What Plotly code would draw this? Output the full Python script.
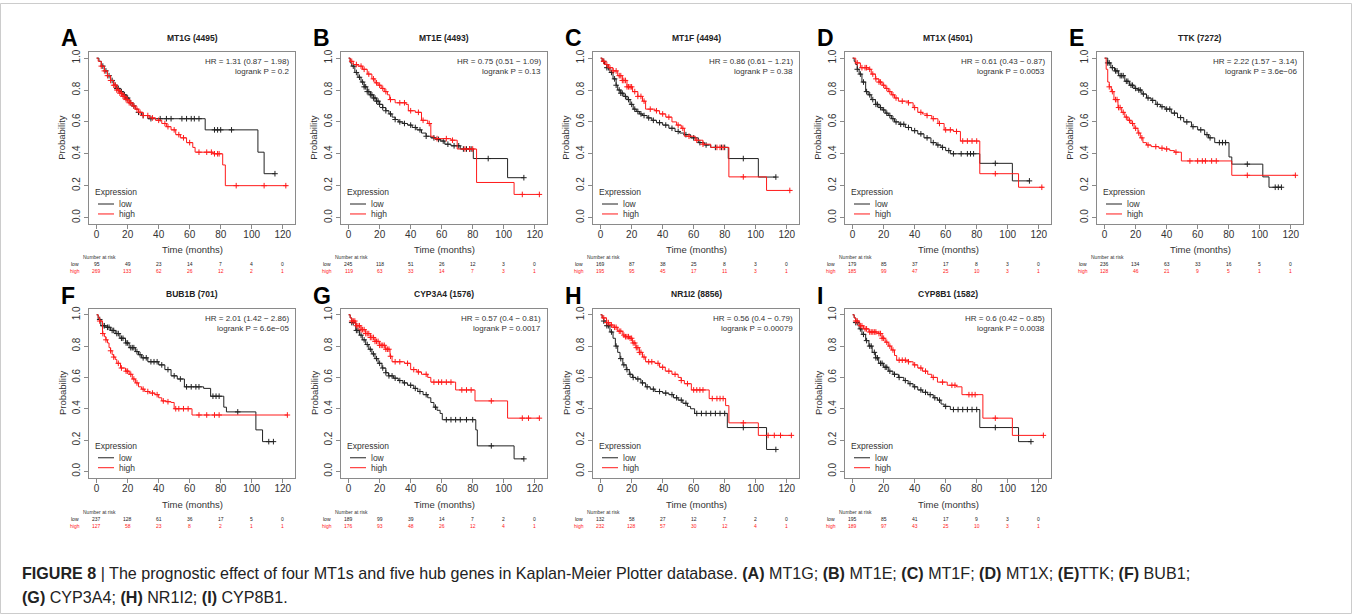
import plotly.graph_objects as go

W, H = 1352, 614

# ---------------- panel metadata ----------------
letters = ["A", "B", "C", "D", "E", "F", "G", "H", "I"]
titles = ["MT1G (4495)", "MT1E (4493)", "MT1F (4494)", "MT1X (4501)", "TTK (7272)",
          "BUB1B (701)", "CYP3A4 (1576)", "NR1I2 (8856)", "CYP8B1 (1582)"]
hr_labels = ["HR = 1.31 (0.87 \u2212 1.98)", "HR = 0.75 (0.51 \u2212 1.09)", "HR = 0.86 (0.61 \u2212 1.21)",
             "HR = 0.61 (0.43 \u2212 0.87)", "HR = 2.22 (1.57 \u2212 3.14)", "HR = 2.01 (1.42 \u2212 2.86)",
             "HR = 0.57 (0.4 \u2212 0.81)", "HR = 0.56 (0.4 \u2212 0.79)", "HR = 0.6 (0.42 \u2212 0.85)"]
p_labels = ["logrank P = 0.2", "logrank P = 0.13", "logrank P = 0.38", "logrank P = 0.0053",
            "logrank P = 3.6e\u221206", "logrank P = 6.6e\u221205", "logrank P = 0.0017",
            "logrank P = 0.00079", "logrank P = 0.0038"]

x_ticks = [0, 20, 40, 60, 80, 100, 120]
y_ticks = [0.0, 0.2, 0.4, 0.6, 0.8, 1.0]
y_tick_text = ["0.0", "0.2", "0.4", "0.6", "0.8", "1.0"]
risk_times = [0, 20, 40, 60, 80, 100, 120]

# ---------------- number at risk ----------------
A_risk_low = [95, 49, 23, 14, 7, 4, 0]
A_risk_high = [269, 133, 62, 26, 12, 2, 1]
B_risk_low = [245, 118, 51, 26, 12, 3, 0]
B_risk_high = [119, 63, 33, 14, 7, 3, 1]
C_risk_low = [169, 87, 38, 25, 8, 3, 0]
C_risk_high = [195, 95, 45, 17, 11, 3, 1]
D_risk_low = [179, 85, 37, 17, 8, 3, 0]
D_risk_high = [185, 99, 47, 25, 10, 3, 1]
E_risk_low = [236, 134, 63, 33, 16, 5, 0]
E_risk_high = [128, 46, 21, 9, 5, 1, 1]
F_risk_low = [237, 128, 61, 36, 17, 5, 0]
F_risk_high = [127, 58, 23, 8, 2, 1, 1]
G_risk_low = [189, 99, 39, 14, 7, 2, 0]
G_risk_high = [176, 93, 48, 26, 12, 4, 1]
H_risk_low = [132, 58, 27, 12, 7, 2, 0]
H_risk_high = [232, 128, 57, 30, 12, 4, 1]
I_risk_low = [195, 85, 41, 17, 9, 3, 0]
I_risk_high = [189, 97, 43, 25, 10, 3, 1]

# ---------------- survival curves (step times, survival, censor times) ----------------
A_low_t = [0, 1.5, 3, 5, 7, 9, 11, 13, 15, 17, 19, 21, 23, 25, 27, 29, 33, 70, 104, 108, 115]
A_low_s = [1, 0.98, 0.95, 0.92, 0.89, 0.86, 0.83, 0.81, 0.79, 0.77, 0.75, 0.72, 0.70, 0.68, 0.66, 0.64, 0.62, 0.55, 0.41, 0.275, 0.275]
A_low_c = [4, 6, 8, 10, 12, 13, 14, 16, 18, 19, 20, 22, 24, 27, 30, 35, 41, 45, 48, 55, 58, 61, 63, 66, 76, 78, 80, 87, 115]
A_high_t = [0, 1, 3, 5, 7, 9, 11, 13, 15, 17, 19, 21, 23, 25, 27, 30, 34, 38, 42, 45, 48, 51, 54, 58, 62, 63.5, 75, 81.3, 83, 123]
A_high_s = [1, 0.98, 0.95, 0.92, 0.89, 0.86, 0.83, 0.80, 0.78, 0.76, 0.74, 0.72, 0.70, 0.68, 0.66, 0.64, 0.625, 0.61, 0.59, 0.57, 0.55, 0.52, 0.50, 0.47, 0.44, 0.41, 0.40, 0.33, 0.20, 0.20]
A_high_c = [3, 5, 7, 9, 11, 12, 13, 14, 15, 16, 17, 18, 19, 20, 21, 22, 24, 26, 28, 30, 33, 36, 40, 44, 46, 50, 53, 56, 60, 66, 71, 74, 76, 78, 79, 90, 108, 122]

B_low_t = [0, 1, 2, 4, 6, 8, 10, 12, 14, 16, 18, 20, 22, 24, 26, 28, 30, 32, 35, 38, 41, 44, 47, 50, 53, 56, 59, 62, 66, 72, 80.4, 102.5, 113]
B_low_s = [1, 0.97, 0.95, 0.91, 0.88, 0.85, 0.82, 0.79, 0.77, 0.75, 0.73, 0.71, 0.69, 0.67, 0.65, 0.63, 0.615, 0.60, 0.59, 0.58, 0.565, 0.55, 0.53, 0.51, 0.50, 0.49, 0.48, 0.46, 0.45, 0.43, 0.37, 0.25, 0.25]
B_low_c = [3, 5, 7, 9, 10, 11, 12, 13, 14, 15, 16, 17, 18, 19, 20, 22, 24, 27, 30, 33, 36, 40, 43, 46, 50, 55, 58, 61, 64, 68, 71, 74, 76, 78, 79, 90, 113]
B_high_t = [0, 1, 3, 6, 9, 12, 15, 17, 19, 21, 23, 25, 26.5, 30, 37, 38.5, 43, 47, 51, 53, 55, 66, 70, 82.5, 106.7, 123]
B_high_s = [1, 0.98, 0.96, 0.95, 0.93, 0.90, 0.87, 0.845, 0.83, 0.81, 0.79, 0.77, 0.74, 0.72, 0.71, 0.67, 0.66, 0.61, 0.59, 0.51, 0.495, 0.485, 0.43, 0.22, 0.145, 0.145]
B_high_c = [2, 5, 8, 10, 13, 16, 18, 20, 22, 24, 27, 33, 36, 40, 45, 48, 52, 57, 63, 67, 75, 78, 80, 112, 123]

C_low_t = [0, 1, 2.5, 4, 6, 8, 10, 11, 13, 15, 17, 19, 21, 23, 25, 27, 30, 33, 36, 40, 44, 48, 51, 54, 58, 63, 67, 71, 82.3, 101.7, 113]
C_low_s = [1, 0.98, 0.96, 0.94, 0.91, 0.87, 0.83, 0.80, 0.78, 0.76, 0.74, 0.71, 0.68, 0.665, 0.65, 0.64, 0.625, 0.61, 0.595, 0.58, 0.56, 0.54, 0.53, 0.52, 0.50, 0.47, 0.455, 0.44, 0.37, 0.254, 0.254]
C_low_c = [2, 4, 5, 7, 9, 10, 12, 13, 14, 16, 18, 20, 22, 24, 26, 28, 31, 34, 38, 42, 46, 50, 55, 60, 64, 68, 74, 78, 80, 92, 113]
C_high_t = [0, 1, 3, 5, 8, 11, 14, 17, 20.6, 24, 27, 29, 35, 38, 42, 46, 49, 52, 54, 61, 66, 71, 82.7, 107, 123]
C_high_s = [1, 0.98, 0.96, 0.94, 0.92, 0.89, 0.86, 0.82, 0.79, 0.76, 0.73, 0.68, 0.67, 0.65, 0.63, 0.60, 0.58, 0.56, 0.51, 0.485, 0.46, 0.44, 0.255, 0.17, 0.17]
C_high_c = [2, 4, 6, 8, 10, 12, 13, 14, 15, 16, 17, 18, 19, 20, 22, 24, 26, 28, 32, 36, 40, 44, 50, 53, 57, 62, 66, 75, 77, 79, 92, 122]

D_low_t = [0, 1, 2, 3, 4.2, 6, 8.4, 10, 12, 14.7, 17, 19, 21, 23, 25, 27, 30, 34, 38, 42, 46, 50.5, 54, 57, 60, 63, 82, 103, 114]
D_low_s = [1, 0.98, 0.96, 0.93, 0.90, 0.85, 0.79, 0.77, 0.74, 0.71, 0.69, 0.675, 0.655, 0.64, 0.62, 0.60, 0.585, 0.565, 0.545, 0.525, 0.50, 0.47, 0.455, 0.44, 0.42, 0.40, 0.34, 0.23, 0.23]
D_low_c = [3, 5, 7, 9, 11, 13, 15, 16, 18, 20, 22, 24, 26, 28, 31, 33, 36, 40, 44, 48, 52, 55, 58, 62, 65, 70, 74, 76, 78, 92, 114]
D_high_t = [0, 2, 5, 10.5, 12, 14.7, 17, 19, 21, 23, 25, 27, 29.5, 36, 39, 42, 45, 48, 51, 55, 59, 65, 69.5, 82, 107, 123]
D_high_s = [1, 0.97, 0.94, 0.93, 0.90, 0.87, 0.85, 0.83, 0.81, 0.79, 0.77, 0.75, 0.73, 0.72, 0.69, 0.66, 0.65, 0.64, 0.62, 0.59, 0.55, 0.54, 0.48, 0.275, 0.19, 0.19]
D_high_c = [3, 6, 8, 9, 11, 13, 15, 17, 18, 20, 22, 24, 26, 28, 32, 36, 40, 44, 48, 52, 56, 60, 63, 67, 71, 74, 77, 80, 92, 122]

E_low_t = [0, 2, 4, 6.4, 9, 13, 16, 19, 21.5, 24, 27, 30, 33, 36, 39, 43, 47, 51, 56, 60, 64.5, 67, 71, 80.2, 82, 102, 106, 114]
E_low_s = [1, 0.97, 0.94, 0.92, 0.89, 0.855, 0.83, 0.81, 0.80, 0.775, 0.75, 0.735, 0.71, 0.695, 0.68, 0.655, 0.627, 0.60, 0.57, 0.55, 0.52, 0.50, 0.47, 0.38, 0.335, 0.255, 0.19, 0.19]
E_low_c = [2, 3, 5, 7, 8, 10, 11, 12, 14, 15, 17, 18, 20, 22, 23, 25, 28, 31, 34, 37, 40, 42, 45, 49, 53, 57, 62, 66, 68, 74, 76, 78, 92, 110, 112, 114]
E_high_t = [0, 1, 2, 3, 4.3, 6, 8.6, 11, 13, 15, 17, 19, 21.5, 23, 24.7, 27, 30, 35, 38.7, 42, 45, 49.5, 82, 123]
E_high_s = [1, 0.93, 0.85, 0.82, 0.79, 0.74, 0.69, 0.66, 0.63, 0.61, 0.59, 0.56, 0.53, 0.50, 0.47, 0.455, 0.445, 0.435, 0.43, 0.42, 0.41, 0.355, 0.265, 0.265]
E_high_c = [3, 5, 7, 8, 9, 10, 12, 14, 16, 18, 20, 22, 24, 28, 33, 37, 40, 46, 55, 60, 63, 65, 69, 72, 92, 123]

F_low_t = [0, 1, 2.7, 6, 9, 12, 15, 18.6, 21, 25, 27, 29, 33, 40, 44, 48, 52, 56.6, 69, 73.5, 82, 83.7, 102.7, 107, 114]
F_low_s = [1, 0.97, 0.93, 0.92, 0.90, 0.88, 0.85, 0.82, 0.79, 0.765, 0.745, 0.725, 0.70, 0.68, 0.65, 0.61, 0.59, 0.54, 0.53, 0.48, 0.41, 0.38, 0.265, 0.19, 0.19]
F_low_c = [2, 4, 5, 7, 8, 10, 11, 13, 14, 16, 17, 19, 20, 22, 23, 24, 26, 28, 30, 32, 35, 37, 39, 42, 46, 50, 54, 58, 61, 64, 66, 75, 77, 79, 91, 111, 114]
F_high_t = [0, 1, 2, 3.8, 5, 6, 7, 8, 9, 10, 11, 12, 13, 15.4, 18.6, 21, 23, 25, 27, 29, 31, 34, 37.6, 40, 42, 45, 48, 50, 61.5, 123]
F_high_s = [1, 0.98, 0.96, 0.88, 0.86, 0.84, 0.82, 0.79, 0.77, 0.745, 0.73, 0.715, 0.69, 0.66, 0.64, 0.62, 0.59, 0.565, 0.54, 0.525, 0.51, 0.50, 0.49, 0.47, 0.45, 0.445, 0.44, 0.40, 0.36, 0.36]
F_high_c = [2, 4, 6, 9, 11, 14, 16, 19, 20, 22, 24, 26, 30, 33, 36, 39, 43, 46, 51, 53, 56, 59, 66, 71, 76, 79, 123]

G_low_t = [0, 1, 2, 4.6, 7, 8.8, 11, 13, 15, 17, 19, 21.5, 24, 25.7, 29, 32, 35, 38, 42, 44.6, 48, 51, 53, 55, 57, 59, 60.4, 82, 83, 106.7, 113]
G_low_s = [1, 0.98, 0.95, 0.90, 0.87, 0.84, 0.81, 0.78, 0.75, 0.72, 0.69, 0.66, 0.63, 0.61, 0.595, 0.58, 0.565, 0.55, 0.53, 0.51, 0.49, 0.47, 0.44, 0.41, 0.39, 0.37, 0.33, 0.265, 0.163, 0.08, 0.08]
G_low_c = [2, 3, 5, 6, 8, 10, 12, 14, 16, 18, 20, 22, 24, 26, 28, 30, 33, 36, 40, 43, 46, 50, 56, 63, 66, 69, 72, 76, 80, 92, 113]
G_high_t = [0, 1, 2, 4.6, 8, 11, 14, 17, 20, 23.6, 26.7, 28, 36, 40, 44, 47, 51, 53, 69, 81.5, 102.5, 123]
G_high_s = [1, 0.98, 0.96, 0.93, 0.905, 0.88, 0.855, 0.83, 0.805, 0.78, 0.735, 0.70, 0.69, 0.65, 0.635, 0.62, 0.60, 0.57, 0.52, 0.45, 0.34, 0.34]
G_high_c = [2, 3, 4, 5, 6, 7, 8, 9, 10, 11, 12, 13, 14, 15, 16, 17, 18, 19, 20, 21, 22, 23, 24, 25, 26, 27, 30, 33, 38, 42, 45, 50, 55, 58, 60, 63, 66, 73, 76, 79, 92, 112, 116, 123]

H_low_t = [0, 1, 2, 3.8, 6, 8, 9.5, 11, 12.5, 14.3, 16.5, 18.5, 20.5, 22.7, 26, 29, 32, 35, 40, 44, 47, 50, 53, 56, 58, 60.6, 81.7, 107, 113]
H_low_s = [1, 0.98, 0.96, 0.93, 0.89, 0.85, 0.80, 0.76, 0.72, 0.68, 0.65, 0.62, 0.60, 0.59, 0.565, 0.54, 0.525, 0.51, 0.50, 0.49, 0.47, 0.455, 0.435, 0.415, 0.40, 0.37, 0.28, 0.14, 0.14]
H_low_c = [2, 4, 5, 7, 10, 13, 15, 17, 19, 21, 24, 27, 30, 34, 38, 42, 46, 49, 52, 55, 62, 65, 68, 71, 74, 77, 80, 92, 113]
H_high_t = [0, 1, 3.8, 6, 8, 11, 14.3, 16, 18.5, 20.5, 22.7, 25, 27, 29, 35, 38, 41.7, 46, 50, 52, 54, 58.5, 70, 80.6, 82.7, 101.7, 123]
H_high_s = [1, 0.98, 0.95, 0.935, 0.92, 0.895, 0.87, 0.86, 0.85, 0.82, 0.79, 0.76, 0.73, 0.70, 0.69, 0.665, 0.64, 0.62, 0.60, 0.58, 0.56, 0.52, 0.465, 0.42, 0.31, 0.23, 0.23]
H_high_c = [2, 4, 5, 7, 9, 10, 12, 13, 15, 16, 17, 18, 19, 20, 21, 22, 23, 24, 25, 26, 28, 31, 33, 37, 40, 44, 48, 52, 56, 60, 62, 64, 66, 72, 75, 77, 79, 92, 108, 112, 116, 123]

I_low_t = [0, 1, 2, 4.2, 6, 8.4, 10.5, 12.6, 14.7, 16.8, 20, 23, 26, 29.5, 33, 35.8, 39, 42, 45, 48.4, 52, 54.7, 57, 59, 63, 82, 107, 115]
I_low_s = [1, 0.98, 0.95, 0.91, 0.875, 0.835, 0.80, 0.76, 0.725, 0.69, 0.665, 0.64, 0.62, 0.60, 0.58, 0.56, 0.54, 0.52, 0.505, 0.49, 0.47, 0.455, 0.43, 0.415, 0.395, 0.28, 0.19, 0.19]
I_low_c = [2, 3, 5, 7, 9, 11, 12, 14, 15, 16, 18, 19, 21, 22, 24, 27, 30, 34, 37, 40, 44, 47, 50, 53, 56, 60, 65, 68, 71, 74, 77, 80, 92, 115]
I_high_t = [0, 1, 2, 4.2, 7, 10.5, 16.8, 19, 21, 23, 25, 27, 28.4, 36, 39, 42, 45, 48.4, 51, 54.7, 61, 67, 70.5, 84, 103, 123]
I_high_s = [1, 0.98, 0.96, 0.93, 0.91, 0.89, 0.88, 0.85, 0.825, 0.80, 0.775, 0.74, 0.71, 0.70, 0.68, 0.66, 0.64, 0.62, 0.60, 0.57, 0.55, 0.54, 0.49, 0.34, 0.23, 0.23]
I_high_c = [2, 3, 5, 6, 8, 9, 11, 12, 13, 14, 15, 17, 18, 19, 20, 22, 24, 26, 30, 32, 34, 36, 40, 44, 47, 52, 58, 64, 66, 75, 77, 79, 92, 123]

panels = [
    (A_low_t, A_low_s, A_low_c, A_high_t, A_high_s, A_high_c, A_risk_low, A_risk_high),
    (B_low_t, B_low_s, B_low_c, B_high_t, B_high_s, B_high_c, B_risk_low, B_risk_high),
    (C_low_t, C_low_s, C_low_c, C_high_t, C_high_s, C_high_c, C_risk_low, C_risk_high),
    (D_low_t, D_low_s, D_low_c, D_high_t, D_high_s, D_high_c, D_risk_low, D_risk_high),
    (E_low_t, E_low_s, E_low_c, E_high_t, E_high_s, E_high_c, E_risk_low, E_risk_high),
    (F_low_t, F_low_s, F_low_c, F_high_t, F_high_s, F_high_c, F_risk_low, F_risk_high),
    (G_low_t, G_low_s, G_low_c, G_high_t, G_high_s, G_high_c, G_risk_low, G_risk_high),
    (H_low_t, H_low_s, H_low_c, H_high_t, H_high_s, H_high_c, H_risk_low, H_risk_high),
    (I_low_t, I_low_s, I_low_c, I_high_t, I_high_s, I_high_c, I_risk_low, I_risk_high),
]

caption_line1 = ("<b>FIGURE 8</b> | The prognostic effect of four MT1s and five hub genes in Kaplan-Meier Plotter database. "
                 "<b>(A)</b> MT1G; <b>(B)</b> MT1E; <b>(C)</b> MT1F; <b>(D)</b> MT1X; <b>(E)</b>TTK; <b>(F)</b> BUB1;")
caption_line2 = "<b>(G)</b> CYP3A4; <b>(H)</b> NR1I2; <b>(I)</b> CYP8B1."

# ---------------- styling / layout ----------------
LOW_COLOR = "#222222"
HIGH_COLOR = "#ff1a1a"
FRAME = "#8a8a8a"
TEXT = "#333333"
FONT = "Liberation Sans, Arial, sans-serif"

box_lefts = [89, 341, 593, 845, 1097]
BOX_W = 206
rows = [
    dict(top=49, bot=222, title=35, letter=35, xlab=248, nar=255, low=262, high=269),
    dict(top=307, bot=477, title=292, letter=294, xlab=504, nar=512, low=519, high=526),
]


def px(x):
    return x / W


def py(y):
    return 1 - y / H


def surv_at(ts, ss, t):
    val = ss[0]
    for ti, si in zip(ts, ss):
        if ti <= t:
            val = si
        else:
            break
    return val


fig = go.Figure()
annotations = []
shapes = []
layout_axes = {}

for i, (lt, ls, lc, ht, hs, hc, rl, rh) in enumerate(panels):
    r = 0 if i < 5 else 1
    c = i if i < 5 else i - 5
    R = rows[r]
    left = box_lefts[c]
    right = left + BOX_W
    xa = "x" if i == 0 else f"x{i+1}"
    ya = "y" if i == 0 else f"y{i+1}"
    xkey = "xaxis" if i == 0 else f"xaxis{i+1}"
    ykey = "yaxis" if i == 0 else f"yaxis{i+1}"

    for t, s, cens, col in ((lt, ls, lc, LOW_COLOR), (ht, hs, hc, HIGH_COLOR)):
        fig.add_trace(go.Scatter(x=t, y=s, mode="lines", line=dict(color=col, width=1, shape="hv"),
                                 xaxis=xa, yaxis=ya, showlegend=False, hoverinfo="skip"))
        fig.add_trace(go.Scatter(x=cens, y=[surv_at(t, s, v) for v in cens], mode="markers",
                                 marker=dict(symbol="cross-thin", size=4, line=dict(color=col, width=1)),
                                 xaxis=xa, yaxis=ya, showlegend=False, hoverinfo="skip"))

    layout_axes[xkey] = dict(domain=[px(left), px(right)], anchor=ya, range=[-4.92, 127.92],
                             tickvals=x_ticks, ticks="outside", ticklen=4, tickcolor=FRAME,
                             ticklabelstandoff=-3,
                             showline=True, mirror=True, linecolor=FRAME, linewidth=1,
                             showgrid=False, zeroline=False, tickfont=dict(size=10, color=TEXT, family=FONT))
    layout_axes[ykey] = dict(domain=[py(R["bot"]), py(R["top"])], anchor=xa, range=[-0.04, 1.04],
                             tickvals=y_ticks, ticktext=y_tick_text, tickangle=-90, ticks="outside",
                             ticklen=4, tickcolor=FRAME, showline=True, mirror=True, linecolor=FRAME,
                             linewidth=1, showgrid=False, zeroline=False,
                             tickfont=dict(size=10, color=TEXT, family=FONT))

    # panel letter
    annotations.append(dict(text=f"<b>{letters[i]}</b>", x=px(left - 30), y=py(R["letter"]), xref="paper",
                            yref="paper", xanchor="left", yanchor="middle", showarrow=False,
                            font=dict(size=23, color="#000000", family=FONT)))
    # title
    annotations.append(dict(text=f"<b>{titles[i]}</b>", x=px(left + BOX_W / 2), y=py(R["title"]),
                            xref="paper", yref="paper", xanchor="center", yanchor="middle", showarrow=False,
                            font=dict(size=8.5, color="#222222", family=FONT)))
    # HR and P
    annotations.append(dict(text=hr_labels[i], x=px(right - 4), y=py(R["top"] + 10), xref="paper",
                            yref="paper", xanchor="right", yanchor="middle", showarrow=False,
                            font=dict(size=8, color=TEXT, family=FONT)))
    annotations.append(dict(text=p_labels[i], x=px(right - 4), y=py(R["top"] + 20), xref="paper",
                            yref="paper", xanchor="right", yanchor="middle", showarrow=False,
                            font=dict(size=8, color=TEXT, family=FONT)))
    # axis titles
    annotations.append(dict(text="Probability", x=px(left - 27), y=py((R["top"] + R["bot"]) / 2),
                            xref="paper", yref="paper", xanchor="center", yanchor="middle", textangle=-90,
                            showarrow=False, font=dict(size=9.5, color=TEXT, family=FONT)))
    annotations.append(dict(text="Time (months)", x=px(left + BOX_W / 2), y=py(R["xlab"]), xref="paper",
                            yref="paper", xanchor="center", yanchor="middle", showarrow=False,
                            font=dict(size=9.5, color=TEXT, family=FONT)))
    # legend
    annotations.append(dict(text="Expression", x=px(left + 4), y=py(R["bot"] - 32), xref="paper",
                            yref="paper", xanchor="left", yanchor="middle", showarrow=False,
                            font=dict(size=8.5, color=TEXT, family=FONT)))
    for lab, col, dy in (("low", LOW_COLOR, 20), ("high", HIGH_COLOR, 10)):
        annotations.append(dict(text=lab, x=px(left + 28), y=py(R["bot"] - dy), xref="paper",
                                yref="paper", xanchor="left", yanchor="middle", showarrow=False,
                                font=dict(size=8.5, color=TEXT, family=FONT)))
        shapes.append(dict(type="line", xref="paper", yref="paper", x0=px(left + 9), x1=px(left + 25),
                           y0=py(R["bot"] - dy), y1=py(R["bot"] - dy), line=dict(color=col, width=1)))
    # number at risk table
    annotations.append(dict(text="Number at risk", x=px(left + 10), y=py(R["nar"]), xref="paper",
                            yref="paper", xanchor="center", yanchor="middle", showarrow=False,
                            font=dict(size=5, color=TEXT, family=FONT)))
    for lab, vals, col, yy in (("low", rl, LOW_COLOR, R["low"]), ("high", rh, HIGH_COLOR, R["high"])):
        annotations.append(dict(text=lab, x=px(left - 14), y=py(yy), xref="paper", yref="paper",
                                xanchor="center", yanchor="middle", showarrow=False,
                                font=dict(size=5, color=col, family=FONT)))
        for t, v in zip(risk_times, vals):
            annotations.append(dict(text=str(v), x=t, y=py(yy), xref=xa, yref="paper", xanchor="center",
                                    yanchor="middle", showarrow=False,
                                    font=dict(size=5, color=col, family=FONT)))

# caption
CAP_FONT = dict(size=16.1, color="#222222", family="Liberation Sans, Arial, sans-serif")
annotations.append(dict(text=caption_line1, x=px(20), y=py(573), xref="paper", yref="paper", xanchor="left",
                        yanchor="middle", showarrow=False, font=CAP_FONT))
annotations.append(dict(text=caption_line2, x=px(20), y=py(597), xref="paper", yref="paper", xanchor="left",
                        yanchor="middle", showarrow=False, font=CAP_FONT))

# outer frame
shapes.append(dict(type="rect", xref="paper", yref="paper", x0=px(0.5), x1=px(W - 0.5), y0=py(H - 0.5),
                   y1=py(0.5), line=dict(color="#cccccc", width=1)))

fig.update_layout(width=W, height=H, margin=dict(l=0, r=0, t=0, b=0), autosize=False,
                  paper_bgcolor="white", plot_bgcolor="white", showlegend=False,
                  annotations=annotations, shapes=shapes, font=dict(family=FONT), **layout_axes)

fig.write_html("out.html")
